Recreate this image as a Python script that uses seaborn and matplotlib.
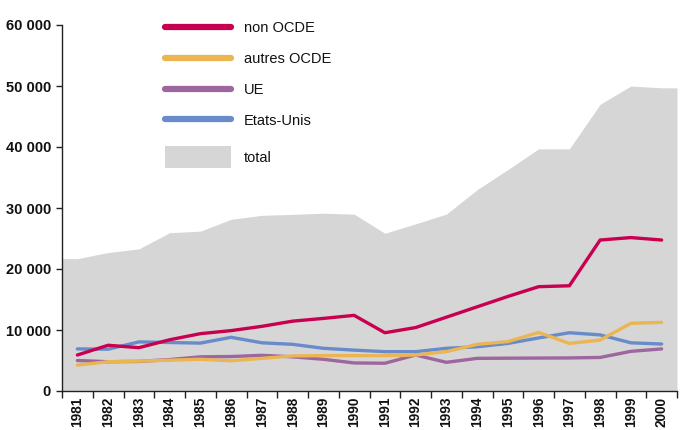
import matplotlib
matplotlib.use("Agg")
import numpy as np
import pandas as pd
import seaborn as sns
import matplotlib.pyplot as plt
from matplotlib.lines import Line2D
from matplotlib.patches import Patch
from matplotlib.ticker import FixedLocator, FuncFormatter

# ---- data ----
years = list(range(1981, 2001))
total = [21700, 22700, 23300, 25950, 26200, 28150, 28800, 28950, 29150, 29000,
         25850, 27400, 29000, 33000, 36300, 39700, 39700, 47000, 50000, 49700]
non_ocde = [5900, 7500, 7100, 8400, 9400, 9900, 10600, 11450, 11900, 12400,
            9550, 10400, 12100, 13800, 15500, 17100, 17250, 24750, 25150, 24750]
autres_ocde = [4250, 4800, 4900, 5050, 5200, 4950, 5350, 5750, 5800, 5800,
               5800, 5900, 6450, 7650, 8100, 9600, 7800, 8350, 11100, 11250]
ue = [5000, 4800, 4850, 5150, 5600, 5650, 5850, 5600, 5200, 4600,
      4550, 5900, 4700, 5350, 5380, 5400, 5420, 5500, 6500, 6900]
etats_unis = [6900, 6850, 8050, 7950, 7850, 8800, 7900, 7650, 7000, 6700,
              6450, 6450, 7000, 7250, 7800, 8700, 9550, 9200, 7900, 7700]
series_names = ["non OCDE", "autres OCDE", "UE", "Etats-Unis"]
y_ticks = [0, 10000, 20000, 30000, 40000, 50000, 60000]

colors = {"non OCDE": "#C70050", "autres OCDE": "#EBB552",
          "UE": "#9D669E", "Etats-Unis": "#6A8BC9"}
total_color = "#D6D6D6"

df = pd.DataFrame({
    "year": years * 4,
    "value": etats_unis + ue + autres_ocde + non_ocde,
    "serie": (["Etats-Unis"] * 20 + ["UE"] * 20 + ["autres OCDE"] * 20
              + ["non OCDE"] * 20),
})

sns.set_style("white")
plt.rcParams["font.family"] = ["Liberation Sans", "DejaVu Sans"]

fig = plt.figure(figsize=(6.83, 4.30), dpi=100)
ax = fig.add_axes([62 / 683, 39 / 430, 615 / 683, 366 / 430])

# total area, extended to category edges
xa = np.array([years[0] - 0.5] + years + [years[-1] + 0.5])
ya = np.array([total[0]] + total + [total[-1]])
ax.fill_between(xa, 0, ya, color=total_color, linewidth=0, zorder=1)

sns.lineplot(data=df, x="year", y="value", hue="serie",
             hue_order=["Etats-Unis", "UE", "autres OCDE", "non OCDE"],
             palette=colors, linewidth=2.4, legend=False, ax=ax, zorder=3)

ax.set_xlim(years[0] - 0.5, years[-1] + 0.5)
ax.set_ylim(0, 60000)
ax.set_xlabel("")
ax.set_ylabel("")

# axes styling
for s in ["top", "right"]:
    ax.spines[s].set_visible(False)
for s in ["left", "bottom"]:
    ax.spines[s].set_color("#222222")
    ax.spines[s].set_linewidth(1.0)

ax.yaxis.set_major_locator(FixedLocator(y_ticks))
ax.yaxis.set_major_formatter(FuncFormatter(lambda v, p: f"{int(v):,}".replace(",", " ")))
ax.tick_params(axis="y", direction="out", length=4, width=1, color="#222222",
               labelsize=10.5, pad=4, left=True)

edges = [y - 0.5 for y in years] + [years[-1] + 0.5]
ax.xaxis.set_major_locator(FixedLocator(edges))
ax.xaxis.set_major_formatter(FuncFormatter(lambda v, p: ""))
ax.xaxis.set_minor_locator(FixedLocator(years))
ax.xaxis.set_minor_formatter(FuncFormatter(lambda v, p: f"{int(round(v))}"))
ax.tick_params(axis="x", which="major", direction="out", length=5, width=1,
               color="#222222", bottom=True)
ax.tick_params(axis="x", which="minor", length=0, labelsize=9.8, pad=4,
               labelrotation=90)

for lab in ax.get_yticklabels() + ax.get_xticklabels(minor=True):
    lab.set_fontweight("bold")
    lab.set_color("#111111")

# legend: the four series
fs = 10.5
fpx = fs * 100 / 72
handles = [Line2D([], [], color=colors[n], linewidth=4.5) for n in series_names]
leg = ax.legend(handles, series_names, loc="upper left",
                bbox_to_anchor=(165 / 683, 1 - 21 / 430),
                bbox_transform=fig.transFigure, frameon=False,
                fontsize=fs, handlelength=66 / fpx, handleheight=0.7,
                handletextpad=13 / fpx, labelspacing=(31 - 1.17 * fpx) / fpx + 0.2,
                borderpad=0, borderaxespad=0)
for t in leg.get_texts():
    t.set_color("#111111")
ax.add_artist(leg)

# legend: total
leg2 = ax.legend([Patch(facecolor=total_color, edgecolor="none")], ["total"],
                 loc="upper left", bbox_to_anchor=(165 / 683, 1 - 146 / 430),
                 bbox_transform=fig.transFigure, frameon=False,
                 fontsize=fs, handlelength=66 / fpx, handleheight=28.5 / fpx,
                 handletextpad=13 / fpx, borderpad=0, borderaxespad=0)
for t in leg2.get_texts():
    t.set_color("#111111")

fig.savefig("out.png", dpi=100)
